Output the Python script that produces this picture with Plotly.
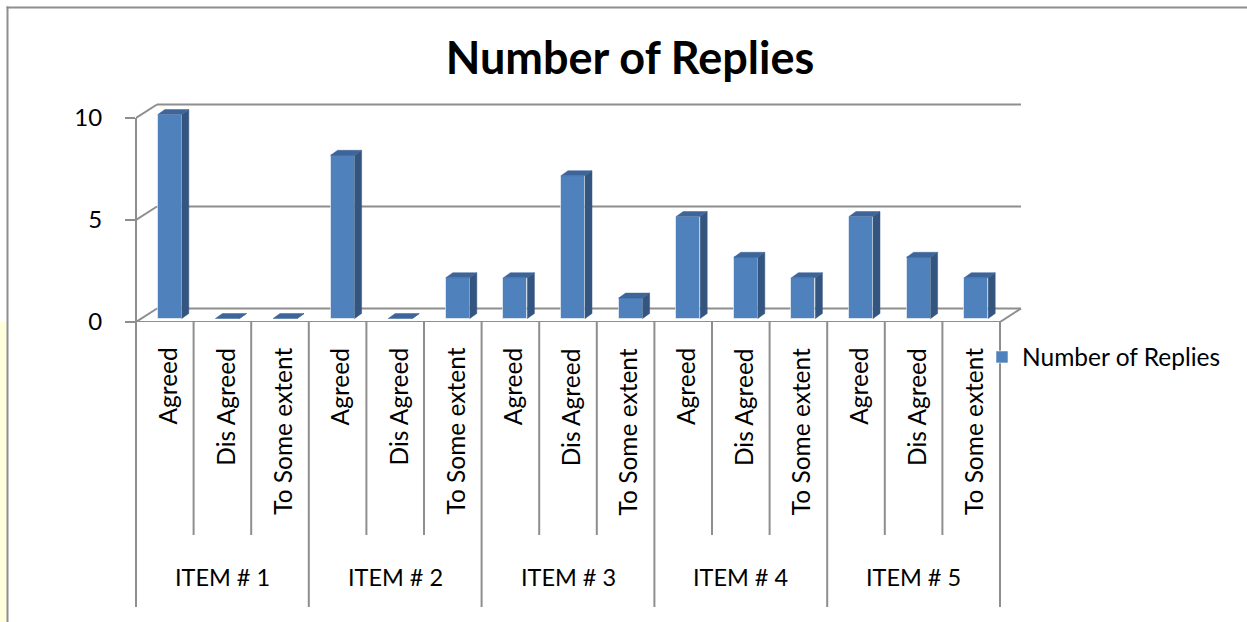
import plotly.graph_objects as go

# ---------------- data ----------------
items = ["ITEM # 1", "ITEM # 2", "ITEM # 3", "ITEM # 4", "ITEM # 5"]
responses = ["Agreed", "Dis Agreed", "To Some extent"]
replies = [10, 0, 0, 8, 0, 2, 2, 7, 1, 5, 3, 2, 5, 3, 2]
y_ticks = [0, 5, 10]
series_name = "Number of Replies"

# ---------------- geometry / style ----------------
W, H = 1247, 622
L, R, T, B = 136, 223, 100, 300
PW = W - L - R
PH = H - T - B
slot_px = 57.6
unit_px = 20.4
x0 = -0.5
x1 = x0 + PW / slot_px
y1 = PH / unit_px
n = len(replies)
xend = n - 0.5

FONT = "Lato"
GRID = "#8E8E8E"
FRONT = "#4F81BD"
TOP = "#3D659A"
SIDE = "#34557F"

bw = 24 / slot_px           # bar front-face width
off = -bw / 2 + 5 / slot_px  # bar shift inside the depth
b0 = 3.5 / unit_px            # bar base inside the floor depth
ddx = 7 / slot_px            # bar depth (x)
ddy = 5 / unit_px            # bar depth (y)
wdx = 21 / slot_px           # wall depth (x)
wdy = 13.5 / unit_px         # wall depth (y)


def x2paper(x):
    return (x - x0) / (x1 - x0)


def py2paper(py):
    return (H - B - py) / PH


def px2paper(px):
    return (px - L) / PW


pos = list(range(n))
labels = [responses[i % 3] for i in pos]

fig = go.Figure()

fig.add_trace(go.Bar(
    x=pos, y=replies, base=b0, width=bw, offset=off,
    marker=dict(color=FRONT, line=dict(color="rgba(255,255,255,0.55)", width=1)),
    name=series_name, showlegend=True, hoverinfo="skip",
))

# side and top faces of the 3-D columns, derived from the values
sx, sy, tx, ty = [], [], [], []
for i, v in zip(pos, replies):
    xl = i + off
    xr = xl + bw
    top = b0 + v
    sx += [xr, xr + ddx, xr + ddx, xr, xr, None]
    sy += [b0, b0 + ddy, top + ddy, top, b0, None]
    tx += [xl, xl + ddx, xr + ddx, xr, xl, None]
    ty += [top, top + ddy, top + ddy, top, top, None]

fig.add_trace(go.Scatter(x=sx, y=sy, mode="lines", fill="toself", fillcolor=SIDE,
                         line=dict(color=SIDE, width=0.5), showlegend=False, hoverinfo="skip"))
fig.add_trace(go.Scatter(x=tx, y=ty, mode="lines", fill="toself", fillcolor=TOP,
                         line=dict(color=TOP, width=0.5), showlegend=False, hoverinfo="skip"))

shapes = []
# back wall gridlines + left side-wall diagonals
for t in y_ticks:
    shapes.append(dict(type="line", xref="x", yref="y", x0=x0, y0=t, x1=x0 + wdx, y1=t + wdy,
                       line=dict(color=GRID, width=2), layer="below"))
    shapes.append(dict(type="line", xref="x", yref="y", x0=x0 + wdx, y0=t + wdy, x1=xend + wdx, y1=t + wdy,
                       line=dict(color=GRID, width=2), layer="below"))
# floor right diagonal and front edge
shapes.append(dict(type="line", xref="x", yref="y", x0=xend, y0=0, x1=xend + wdx, y1=wdy,
                   line=dict(color=GRID, width=2), layer="below"))
shapes.append(dict(type="line", xref="x", yref="y", x0=x0, y0=0, x1=xend, y1=0,
                   line=dict(color=GRID, width=2), layer="below"))

# vertical axis line extending through the category area
shapes.append(dict(type="line", xref="paper", yref="paper", x0=0, x1=0,
                   y0=py2paper(118), y1=py2paper(607), line=dict(color=GRID, width=2)))
# category dividers
for k in range(1, n + 1):
    xp = x2paper(x0 + k)
    bottom = 607 if k % 3 == 0 else 535
    shapes.append(dict(type="line", xref="paper", yref="paper", x0=xp, x1=xp,
                       y0=py2paper(322), y1=py2paper(bottom), line=dict(color=GRID, width=2)))

# outer chart frame and yellow strip
shapes.append(dict(type="rect", xref="paper", yref="paper", x0=px2paper(0), x1=px2paper(6.5),
                   y0=py2paper(322), y1=py2paper(622), fillcolor="#FFFFDC", line=dict(width=0)))
shapes.append(dict(type="line", xref="paper", yref="paper", x0=px2paper(7.5), x1=px2paper(7.5),
                   y0=py2paper(6.5), y1=py2paper(622), line=dict(color=GRID, width=2)))
shapes.append(dict(type="line", xref="paper", yref="paper", x0=px2paper(6.5), x1=px2paper(1247),
                   y0=py2paper(7.5), y1=py2paper(7.5), line=dict(color=GRID, width=2)))

annotations = []
for i, lab in zip(pos, labels):
    annotations.append(dict(x=i + 0.04, y=py2paper(346), xref="x", yref="paper", text=lab,
                            textangle=-90, xanchor="center", yanchor="top", showarrow=False,
                            font=dict(family=FONT, size=24.5, color="#000000")))
for g, it in enumerate(items):
    annotations.append(dict(x=3 * g + 1, y=py2paper(577), xref="x", yref="paper", text=it,
                            xanchor="center", yanchor="middle", showarrow=False,
                            font=dict(family=FONT, size=23.5, color="#000000")))

fig.update_layout(
    width=W, height=H,
    margin=dict(l=L, r=R, t=T, b=B, pad=0),
    paper_bgcolor="white", plot_bgcolor="white",
    title=dict(text="<b>Number of Replies</b>", x=630 / W, xanchor="center",
               y=1 - 58 / H, yanchor="middle",
               font=dict(family=FONT, size=45, color="#000000")),
    xaxis=dict(range=[x0, x1], showgrid=False, zeroline=False, showticklabels=False,
               showline=False, ticks="", fixedrange=True),
    yaxis=dict(range=[0, y1], tickvals=y_ticks, ticktext=[str(t) for t in y_ticks],
               showgrid=False, zeroline=False, showline=False,
               ticks="outside", ticklen=10, tickwidth=2, tickcolor=GRID,
               ticklabelstandoff=18,
               tickfont=dict(family=FONT, size=24, color="#000000"), fixedrange=True),
    legend=dict(x=px2paper(982), y=py2paper(357), xanchor="left", yanchor="middle",
                font=dict(family=FONT, size=24.5, color="#000000"), bgcolor="rgba(0,0,0,0)",
                itemwidth=30),
    shapes=shapes, annotations=annotations,
    bargap=0,
)

fig.write_html("out.html")
